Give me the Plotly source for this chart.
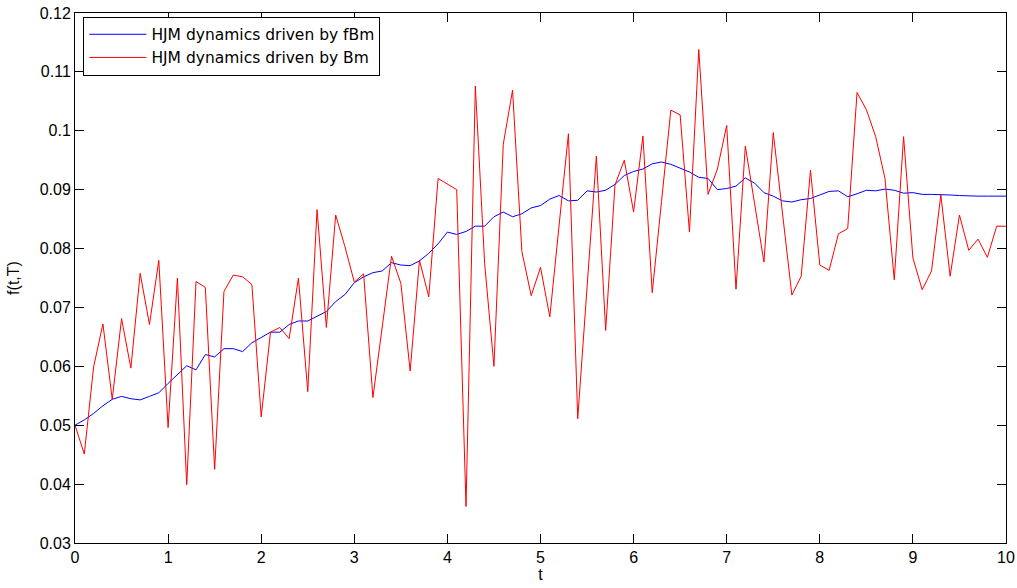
import plotly.graph_objects as go

# time grid, step 0.1 from 0 to 10
t = [round(0.1 * i, 1) for i in range(101)]

# forward rate path under fractional Brownian motion
f_fbm = [
    0.0500, 0.0509, 0.0520, 0.0533, 0.0544, 0.0549, 0.0545, 0.0543, 0.0549, 0.0555,
    0.0571, 0.0586, 0.0601, 0.0594, 0.0620, 0.0616, 0.0630, 0.0630, 0.0625, 0.0640,
    0.0649, 0.0658, 0.0658, 0.0671, 0.0677, 0.0677, 0.0685, 0.0693, 0.0710, 0.0722,
    0.0742, 0.0752, 0.0759, 0.0762, 0.0776, 0.0772, 0.0771, 0.0779, 0.0792, 0.0808,
    0.0828, 0.0824, 0.0829, 0.0838, 0.0838, 0.0854, 0.0862, 0.0854, 0.0859, 0.0869,
    0.0873, 0.0884, 0.0890, 0.0881, 0.0882, 0.0898, 0.0896, 0.0899, 0.0909, 0.0924,
    0.0931, 0.0935, 0.0944, 0.0947, 0.0943, 0.0936, 0.0930, 0.0921, 0.0919, 0.0900,
    0.0902, 0.0906, 0.0920, 0.0911, 0.0895, 0.0889, 0.0881, 0.0879, 0.0883, 0.0885,
    0.0891, 0.0897, 0.0898, 0.0888, 0.0893, 0.0899, 0.0898, 0.0901, 0.0899, 0.0894,
    0.0895, 0.0892, 0.0892, 0.0892, 0.0891, 0.0890, 0.0889, 0.0889, 0.0889, 0.0889,
    0.0889,
]

# forward rate path under standard Brownian motion
f_bm = [
    0.0500, 0.0451, 0.0599, 0.0672, 0.0544, 0.0681, 0.0597, 0.0758, 0.0671, 0.0780,
    0.0496, 0.0750, 0.0399, 0.0744, 0.0734, 0.0425, 0.0727, 0.0755, 0.0752, 0.0739,
    0.0514, 0.0658, 0.0666, 0.0647, 0.0750, 0.0557, 0.0866, 0.0666, 0.0857, 0.0803,
    0.0743, 0.0757, 0.0547, 0.0667, 0.0787, 0.0741, 0.0592, 0.0780, 0.0718, 0.0919,
    0.0909, 0.0900, 0.0362, 0.1076, 0.0775, 0.0600, 0.0977, 0.1069, 0.0795, 0.0720,
    0.0768, 0.0684, 0.0840, 0.0995, 0.0511, 0.0734, 0.0957, 0.0661, 0.0908, 0.0950,
    0.0862, 0.0991, 0.0725, 0.0880, 0.1035, 0.1027, 0.0828, 0.1138, 0.0892, 0.0935,
    0.1009, 0.0731, 0.0974, 0.0876, 0.0777, 0.0997, 0.0860, 0.0721, 0.0753, 0.0933,
    0.0772, 0.0763, 0.0825, 0.0834, 0.1065, 0.1036, 0.0990, 0.0919, 0.0747, 0.0990,
    0.0784, 0.0730, 0.0762, 0.0891, 0.0753, 0.0857, 0.0797, 0.0816, 0.0785, 0.0838,
    0.0838,
]

x_ticks = list(range(0, 11))
y_ticks = [0.03, 0.04, 0.05, 0.06, 0.07, 0.08, 0.09, 0.10, 0.11, 0.12]
y_tick_text = ["0.03", "0.04", "0.05", "0.06", "0.07", "0.08", "0.09", "0.1", "0.11", "0.12"]

FONT = "Liberation Sans, Arial"

fig = go.Figure()
fig.add_trace(go.Scatter(
    x=t, y=f_fbm, mode="lines", name="HJM dynamics driven by fBm",
    line=dict(color="#0000ff", width=1),
))
fig.add_trace(go.Scatter(
    x=t, y=f_bm, mode="lines", name="HJM dynamics driven by Bm",
    line=dict(color="#ff0000", width=1),
))

axis_common = dict(
    showline=True, linecolor="black", linewidth=1, mirror="ticks",
    ticks="inside", ticklen=9, tickcolor="black", tickwidth=1,
    showgrid=False, zeroline=False, automargin=False,
    tickfont=dict(family=FONT, size=16, color="black"),
)

fig.update_layout(
    width=1017, height=588,
    margin=dict(l=75, r=11, t=13, b=45),
    paper_bgcolor="white", plot_bgcolor="white",
    font=dict(family=FONT, size=16, color="black"),
    showlegend=True,
    legend=dict(
        x=0.009, y=0.993, xanchor="left", yanchor="top",
        bgcolor="white", bordercolor="black", borderwidth=1,
        font=dict(family="DejaVu Sans", size=15.5, color="black"),
        tracegroupgap=0, itemwidth=57,
    ),
    xaxis=dict(
        range=[0, 10], tickmode="array", tickvals=x_ticks,
        title=dict(text="t", standoff=3, font=dict(size=16)),
        **axis_common,
    ),
    yaxis=dict(
        range=[0.03, 0.12], tickmode="array", tickvals=y_ticks, ticktext=y_tick_text,
        title=dict(text="f(t,T)", standoff=16, font=dict(size=16)),
        **axis_common,
    ),
)

fig.write_html("out.html")
